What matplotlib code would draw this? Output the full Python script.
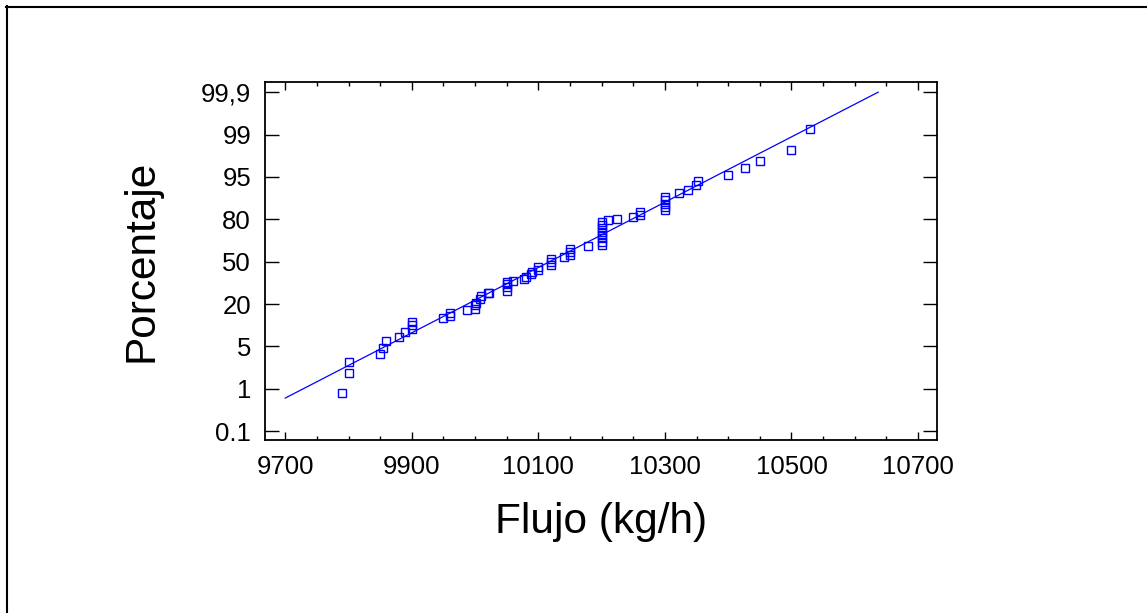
import numpy as np
import matplotlib.pyplot as plt
from matplotlib.lines import Line2D
from matplotlib.ticker import MultipleLocator

plt.rcParams['font.family'] = ['Liberation Sans', 'DejaVu Sans']

# flow readings (kg/h) and their position on the probability axis (tick units: 0 -> 0.1 %, 8 -> 99.9 %)
flujo = [9790, 9800, 9800, 9850, 9854, 9860, 9880, 9890, 9900, 9900, 9900,
         9950, 9960, 9960, 9988, 10000, 10000, 10002, 10008, 10010, 10020, 10022,
         10050, 10050, 10050, 10050, 10060, 10078, 10080, 10088, 10090, 10100, 10100,
         10120, 10120, 10120, 10140, 10150, 10150, 10150, 10178,
         10200, 10200, 10200, 10200, 10200, 10200, 10200, 10200,
         10210, 10225, 10250, 10260, 10260,
         10300, 10300, 10300, 10300, 10300,
         10323, 10336, 10349, 10353, 10400, 10426, 10450, 10500, 10530]
posicion = [0.89, 1.37, 1.63, 1.82, 1.97, 2.13, 2.21, 2.34, 2.40, 2.50, 2.58,
            2.66, 2.72, 2.79, 2.85, 2.89, 2.97, 3.03, 3.11, 3.19, 3.25, 3.27,
            3.31, 3.39, 3.47, 3.52, 3.55, 3.60, 3.64, 3.70, 3.75, 3.81, 3.88,
            3.92, 3.99, 4.07, 4.10, 4.15, 4.22, 4.29, 4.36,
            4.39, 4.47, 4.55, 4.63, 4.71, 4.79, 4.86, 4.94,
            4.98, 5.00, 5.05, 5.11, 5.17,
            5.21, 5.29, 5.37, 5.45, 5.53,
            5.62, 5.68, 5.80, 5.90, 6.05, 6.20, 6.38, 6.64, 7.12]

# fitted reference line (endpoints)
linea_x = [9700, 10637]
linea_y = [0.78, 8.0]

ytick_labels = ['0.1', '1', '5', '20', '50', '80', '95', '99', '99,9']
xticks = [9700, 9900, 10100, 10300, 10500, 10700]

fig = plt.figure(figsize=(11.47, 6.13), dpi=100)
ax = fig.add_axes([265/1147, 1 - 440/613, 672/1147, 358/613])

azul = '#0000ff'
ax.plot(linea_x, linea_y, color=azul, lw=0.9)
ax.plot(flujo, posicion, ls='none', marker='s', ms=5.5, mfc='none', mec=azul, mew=1.0)

ax.set_xlim(9668, 10730)
ax.set_ylim(-0.21, 8.24)
ax.set_xticks(xticks)
ax.set_xticklabels([str(v) for v in xticks])
ax.xaxis.set_minor_locator(MultipleLocator(50))
ax.set_yticks(range(len(ytick_labels)))
ax.set_yticklabels(ytick_labels)

ax.tick_params(axis='x', which='major', direction='in', length=6, width=1,
               top=True, labelsize=18.5, pad=11)
ax.tick_params(axis='x', which='minor', direction='in', length=3, width=1, top=True)
ax.tick_params(axis='y', direction='in', length=10, width=1, right=True,
               labelsize=18.5, pad=10)
for s in ax.spines.values():
    s.set_linewidth(1.3)

ax.set_xlabel('Flujo (kg/h)', fontsize=30.5, labelpad=16)
ax.set_ylabel('Porcentaje', fontsize=30.5, labelpad=28)

# outer frame (top and left edges only)
fig.add_artist(Line2D([6/1147, 1], [1 - 6.5/613, 1 - 6.5/613], color='black', lw=1.5,
                      transform=fig.transFigure))
fig.add_artist(Line2D([6.5/1147, 6.5/1147], [0, 1 - 6/613], color='black', lw=1.5,
                      transform=fig.transFigure))

fig.savefig('out.png', dpi=100)
